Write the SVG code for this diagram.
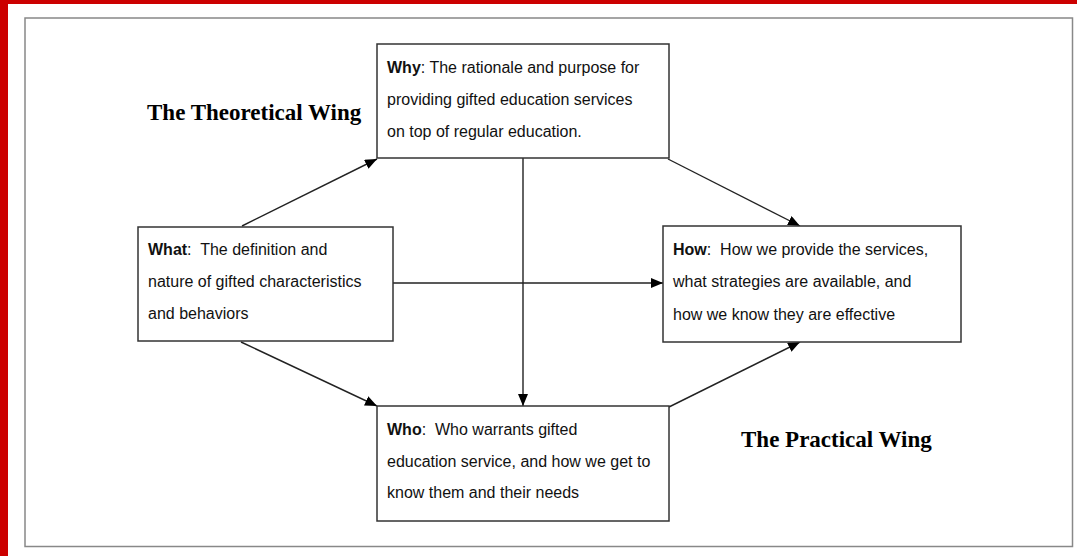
<svg xmlns="http://www.w3.org/2000/svg" width="1077" height="556" viewBox="0 0 1077 556">
<style>
.box{fill:#fff;stroke:#333;stroke-width:1.5}
.t{font-family:"Liberation Sans",Arial,sans-serif;font-size:16px;fill:#111;white-space:pre}
.b{font-weight:bold}
.wing{font-family:"Liberation Serif","Times New Roman",serif;font-size:23px;font-weight:bold;fill:#000}
.c{stroke:#222;stroke-width:1.4;fill:none;marker-end:url(#ah)}
</style>
<defs>
<marker id="ah" viewBox="0 0 12 10" refX="12" refY="5" markerWidth="12" markerHeight="10" markerUnits="userSpaceOnUse" orient="auto">
<path d="M0,0 L12,5 L0,10 Z" fill="#000"/>
</marker>
</defs>
<rect x="0" y="0" width="1077" height="556" fill="#fff"/>
<rect x="0" y="0" width="8" height="556" fill="#cc0000"/>
<rect x="0" y="0" width="1077" height="4" fill="#cc0000"/>
<rect x="25" y="18" width="1047.5" height="528.5" fill="none" stroke="#888" stroke-width="1.5"/>
<text class="wing" x="147" y="120">The Theoretical Wing</text>
<text class="wing" x="741" y="447">The Practical Wing</text>
<g id="connectors">
<line class="c" x1="242" y1="226" x2="377" y2="159"/>
<line class="c" x1="393" y1="283" x2="663" y2="283"/>
<line class="c" x1="523" y1="158" x2="523" y2="406"/>
<line class="c" x1="668" y1="159" x2="800" y2="226"/>
<line class="c" x1="241" y1="342" x2="377" y2="406"/>
<line class="c" x1="669" y1="407" x2="800" y2="342"/>
</g>
<g id="why">
<rect class="box" x="377" y="44" width="292" height="114"/>
<text class="t" x="387" y="73" xml:space="preserve"><tspan class="b">Why</tspan>: The rationale and purpose for</text>
<text class="t" x="387" y="105">providing gifted education services</text>
<text class="t" x="387" y="137">on top of regular education.</text>
</g>
<g id="what">
<rect class="box" x="138" y="227" width="255" height="114"/>
<text class="t" x="148" y="255" xml:space="preserve"><tspan class="b">What</tspan>:  The definition and</text>
<text class="t" x="148" y="287">nature of gifted characteristics</text>
<text class="t" x="148" y="319">and behaviors</text>
</g>
<g id="how">
<rect class="box" x="663" y="226" width="298" height="116"/>
<text class="t" x="673" y="255" xml:space="preserve"><tspan class="b">How</tspan>:  How we provide the services,</text>
<text class="t" x="673" y="287">what strategies are available, and</text>
<text class="t" x="673" y="320">how we know they are effective</text>
</g>
<g id="who">
<rect class="box" x="377" y="406" width="292" height="115"/>
<text class="t" x="387" y="435" xml:space="preserve"><tspan class="b">Who</tspan>:  Who warrants gifted</text>
<text class="t" x="387" y="467">education service, and how we get to</text>
<text class="t" x="387" y="498">know them and their needs</text>
</g>
</svg>
